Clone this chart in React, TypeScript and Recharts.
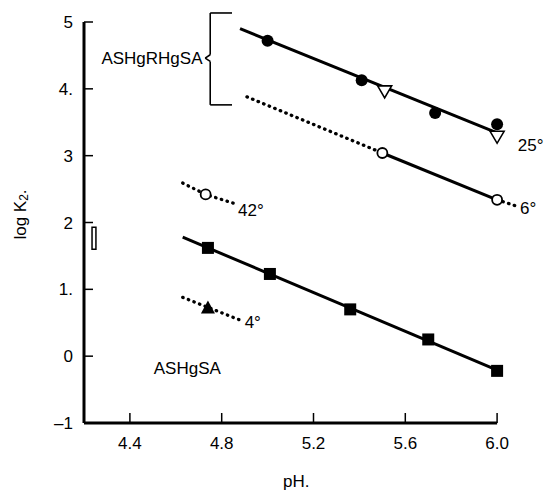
import React from "react";
import {
  ComposedChart,
  Line,
  Scatter,
  XAxis,
  YAxis,
  ReferenceLine,
  ReferenceArea,
  ReferenceDot,
} from "recharts";

const FONT = "'Liberation Sans', Arial, sans-serif";

const xTicks = [4.4, 4.8, 5.2, 5.6, 6.0];
const xTickLabels = ["4.4", "4.8", "5.2", "5.6", "6.0"];
const yTicks = [-1, 0, 1, 2, 3, 4, 5];
const yTickLabels = ["–1", "0", "1.", "2", "3", "4.", "5"];

// ASHgRHgSA, 25 deg
const fit25 = [{ x: 4.88, y: 4.9 }, { x: 6.0, y: 3.34 }];
const filled25 = [
  { x: 5.0, y: 4.72 },
  { x: 5.41, y: 4.13 },
  { x: 5.73, y: 3.64 },
  { x: 6.0, y: 3.47 },
];
const open25 = [{ x: 5.51, y: 3.97 }, { x: 6.0, y: 3.29 }];

// ASHgRHgSA, 6 deg
const dotted6 = [{ x: 4.91, y: 3.88 }, { x: 5.5, y: 3.04 }];
const solid6 = [{ x: 5.5, y: 3.04 }, { x: 6.0, y: 2.34 }];
const tail6 = [{ x: 6.0, y: 2.34 }, { x: 6.08, y: 2.25 }];
const points6 = [{ x: 5.5, y: 3.04 }, { x: 6.0, y: 2.34 }];

// 42 deg
const dotted42 = [{ x: 4.63, y: 2.59 }, { x: 4.73, y: 2.42 }, { x: 4.85, y: 2.29 }];
const points42 = [{ x: 4.73, y: 2.42 }];

// ASHgSA
const fitMono = [{ x: 4.63, y: 1.78 }, { x: 6.0, y: -0.21 }];
const pointsMono = [
  { x: 4.74, y: 1.62 },
  { x: 5.01, y: 1.23 },
  { x: 5.36, y: 0.7 },
  { x: 5.7, y: 0.25 },
  { x: 6.0, y: -0.22 },
];

// 4 deg
const dotted4 = [{ x: 4.63, y: 0.88 }, { x: 4.74, y: 0.73 }, { x: 4.88, y: 0.54 }];
const points4 = [{ x: 4.74, y: 0.73 }];

const annotations = [
  { x: 4.496, y: 4.46, text: "ASHgRHgSA", anchor: "middle" },
  { x: 4.65, y: -0.18, text: "ASHgSA", anchor: "middle" },
  { x: 6.09, y: 3.16, text: "25°", anchor: "start" },
  { x: 6.1, y: 2.22, text: "6°", anchor: "start" },
  { x: 4.871, y: 2.19, text: "42°", anchor: "start" },
  { x: 4.9, y: 0.51, text: "4°", anchor: "start" },
];

const brace = [
  { x: 4.845, y: 5.135 },
  { x: 4.75, y: 5.135 },
  { x: 4.75, y: 4.51 },
  { x: 4.728, y: 4.46 },
  { x: 4.75, y: 4.41 },
  { x: 4.75, y: 3.76 },
  { x: 4.845, y: 3.76 },
];

const XTick = ({ x, y, payload }: any) => {
  const i = xTicks.indexOf(payload.value);
  return (
    <g>
      <line x1={x} y1={y} x2={x} y2={y - 10} stroke="#000" strokeWidth={1.5} />
      <text x={x} y={y + 26} textAnchor="middle" fontSize={17} fontFamily={FONT} fill="#000">
        {xTickLabels[i]}
      </text>
    </g>
  );
};

const YTick = ({ x, y, payload }: any) => {
  const i = yTicks.indexOf(payload.value);
  return (
    <g>
      <line x1={x} y1={y} x2={x + 9} y2={y} stroke="#000" strokeWidth={1.5} />
      <text x={x - 11} y={y + 6} textAnchor="end" fontSize={17} fontFamily={FONT} fill="#000">
        {yTickLabels[i]}
      </text>
    </g>
  );
};

const YTitle = ({ viewBox }: any) => {
  const cx = viewBox.x + 20;
  const cy = viewBox.y + viewBox.height / 2 - 8;
  return (
    <text
      x={cx}
      y={cy}
      transform={`rotate(-90, ${cx}, ${cy})`}
      textAnchor="middle"
      dominantBaseline="central"
      fontSize={17}
      fontFamily={FONT}
      fill="#000"
    >
      log K<tspan dy={4} fontSize={12}>2</tspan>
      <tspan dy={-4}>.</tspan>
    </text>
  );
};

const XTitle = ({ viewBox }: any) => (
  <text x={viewBox.x + 199} y={viewBox.y + 64} fontSize={17} fontFamily={FONT} fill="#000">
    pH.
  </text>
);

const filledCircle = (p: any) => <circle cx={p.cx} cy={p.cy} r={6} fill="#000" />;
const openCircle = (p: any) => (
  <circle cx={p.cx} cy={p.cy} r={5} fill="#fff" stroke="#000" strokeWidth={1.8} />
);
const square = (p: any) => <rect x={p.cx - 6} y={p.cy - 6} width={12} height={12} fill="#000" />;
const triangleDown = (p: any) => (
  <path
    d={`M${p.cx - 7},${p.cy - 5} L${p.cx + 7},${p.cy - 5} L${p.cx},${p.cy + 7} Z`}
    fill="#fff"
    stroke="#000"
    strokeWidth={1.6}
  />
);
const triangleUp = (p: any) => (
  <path d={`M${p.cx - 7},${p.cy + 6} L${p.cx + 7},${p.cy + 6} L${p.cx},${p.cy - 7} Z`} fill="#000" />
);

const solid = { stroke: "#000", strokeWidth: 3, dot: false, activeDot: false, isAnimationActive: false };
const dotted = {
  stroke: "#000",
  strokeWidth: 3.3,
  strokeDasharray: "0.5 5.5",
  strokeLinecap: "round" as const,
  dot: false,
  activeDot: false,
  isAnimationActive: false,
};

export default function App() {
  return (
    <div style={{ position: "absolute", left: 0, top: 0, background: "#fff" }}>
      <ComposedChart width={547} height={491} margin={{ top: 22, right: 4, bottom: 0, left: 0 }}>
        <XAxis
          type="number"
          dataKey="x"
          domain={[4.2, 6.2]}
          ticks={xTicks}
          allowDataOverflow
          axisLine={false}
          tickLine={false}
          tickSize={0}
          tickMargin={0}
          height={68}
          tick={<XTick />}
          interval={0}
          label={{ content: XTitle }}
        />
        <YAxis
          type="number"
          dataKey="y"
          domain={[-1, 5]}
          ticks={yTicks}
          allowDataOverflow
          axisLine={false}
          tickLine={false}
          tickSize={0}
          tickMargin={0}
          width={84}
          tick={<YTick />}
          interval={0}
          label={{ content: YTitle }}
        />

        <ReferenceLine segment={[{ x: 4.2, y: -1 }, { x: 6.0, y: -1 }]} stroke="#000" strokeWidth={3} ifOverflow="visible" />
        <ReferenceLine segment={[{ x: 4.2, y: -1 }, { x: 4.2, y: 5 }]} stroke="#000" strokeWidth={3} ifOverflow="visible" />

        {brace.slice(1).map((p, i) => (
          <ReferenceLine
            key={`brace-${i}`}
            segment={[brace[i], p]}
            stroke="#000"
            strokeWidth={1.6}
            ifOverflow="visible"
          />
        ))}

        <ReferenceArea x1={4.235} x2={4.252} y1={1.6} y2={1.93} fill="none" stroke="#000" strokeWidth={1.5} ifOverflow="visible" />

        {annotations.map((a) => (
          <ReferenceDot
            key={a.text}
            x={a.x}
            y={a.y}
            r={0}
            fill="none"
            stroke="none"
            ifOverflow="visible"
            label={{
              value: a.text,
              position: a.anchor === "middle" ? "center" : "right",
              offset: 0,
              fontSize: 17,
              fontFamily: FONT,
              fill: "#000",
            }}
          />
        ))}

        <Line data={fit25} dataKey="y" type="linear" {...solid} />
        <Line data={dotted6} dataKey="y" type="linear" {...dotted} />
        <Line data={solid6} dataKey="y" type="linear" {...solid} />
        <Line data={tail6} dataKey="y" type="linear" {...dotted} />
        <Line data={dotted42} dataKey="y" type="linear" {...dotted} />
        <Line data={fitMono} dataKey="y" type="linear" {...solid} />
        <Line data={dotted4} dataKey="y" type="linear" {...dotted} />

        <Scatter data={filled25} shape={filledCircle} isAnimationActive={false} />
        <Scatter data={open25} shape={triangleDown} isAnimationActive={false} />
        <Scatter data={points6} shape={openCircle} isAnimationActive={false} />
        <Scatter data={points42} shape={openCircle} isAnimationActive={false} />
        <Scatter data={pointsMono} shape={square} isAnimationActive={false} />
        <Scatter data={points4} shape={triangleUp} isAnimationActive={false} />
      </ComposedChart>
    </div>
  );
}
